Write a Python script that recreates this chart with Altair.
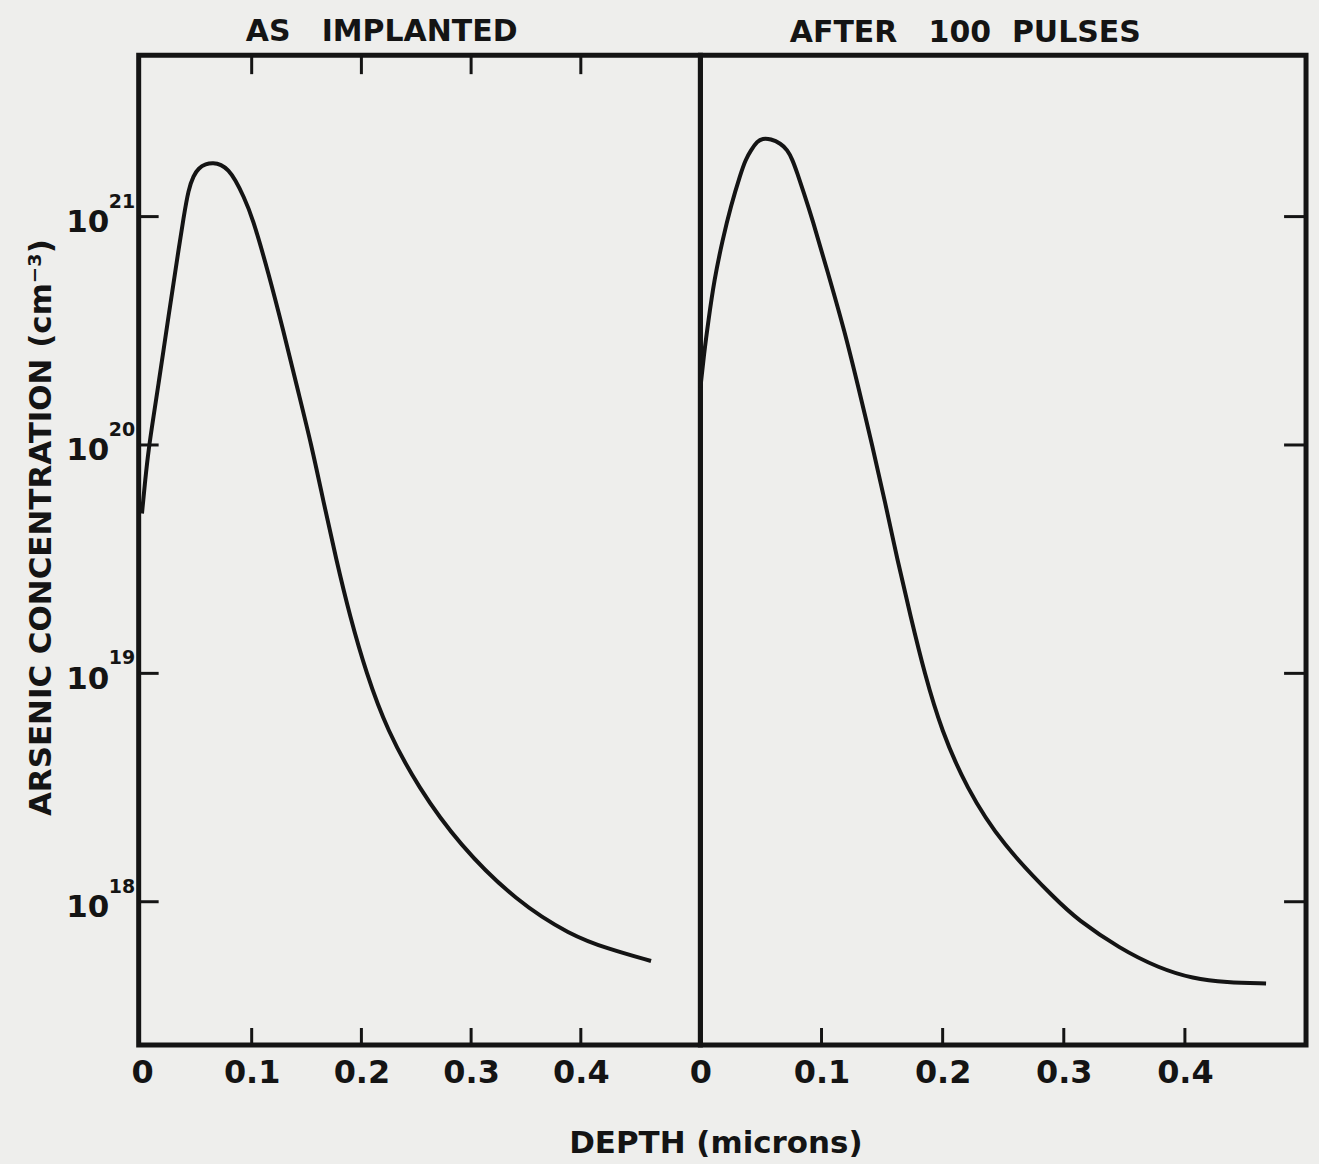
import altair as alt
import pandas as pd

# ---------------- data ----------------
# Depth in microns, arsenic concentration in cm^-3
implanted_depth = [0.000, 0.003, 0.006, 0.0106, 0.0152, 0.0197, 0.0242, 0.0288, 0.0333, 0.0379,
                   0.0424, 0.047, 0.0515, 0.058, 0.065, 0.072, 0.0788, 0.085, 0.0925, 0.1005,
                   0.1155, 0.1289, 0.1415, 0.1545, 0.1655, 0.177, 0.1895, 0.2045, 0.2235, 0.252,
                   0.289, 0.3416, 0.391, 0.424, 0.464]
implanted_conc = [5.01e19, 7.08e19, 9.55e19, 1.34e20, 1.87e20, 2.61e20, 3.66e20, 5.12e20, 7.14e20, 9.89e20,
                  1.32e21, 1.51e21, 1.63e21, 1.70e21, 1.72e21, 1.69e21, 1.60e21, 1.45e21, 1.23e21, 1.00e21,
                  5.62e20, 3.16e20, 1.78e20, 1.00e20, 5.62e19, 3.16e19, 1.78e19, 1.00e19, 5.62e18, 3.16e18,
                  1.78e18, 1.00e18, 7.13e17, 6.24e17, 5.50e17]

pulsed_depth = [0.000, 0.003, 0.0065, 0.0114, 0.0183, 0.0251, 0.0333, 0.0374, 0.0416, 0.0471,
                0.0512, 0.058, 0.0663, 0.0718, 0.0759, 0.080, 0.0854, 0.0918, 0.1055, 0.119,
                0.1305, 0.1418, 0.1525, 0.1625, 0.1735, 0.185, 0.199, 0.2195, 0.249, 0.2953,
                0.3105, 0.346, 0.379, 0.4064, 0.434, 0.467]
pulsed_conc = [1.78e20, 2.51e20, 3.47e20, 5.28e20, 7.91e20, 1.11e21, 1.55e21, 1.78e21, 1.95e21, 2.14e21,
               2.20e21, 2.19e21, 2.09e21, 1.96e21, 1.78e21, 1.55e21, 1.27e21, 1.00e21, 5.62e20, 3.16e20,
               1.78e20, 1.00e20, 5.62e19, 3.16e19, 1.78e19, 1.00e19, 5.62e18, 3.16e18, 1.78e18, 1.00e18,
               8.43e17, 6.24e17, 5.11e17, 4.61e17, 4.43e17, 4.39e17]

y_tick_values = [1e18, 1e19, 1e20, 1e21]
y_tick_exponents = ["18", "19", "20", "21"]
x_tick_values = [0.1, 0.2, 0.3, 0.4]
x_label_values = [0, 0.1, 0.2, 0.3, 0.4]

panel_titles = ["AS\u00a0\u00a0\u00a0IMPLANTED", "AFTER\u00a0\u00a0\u00a0100\u00a0\u00a0PULSES"]
y_title = "ARSENIC CONCENTRATION (cm\u207b\u00b3)"
x_title = "DEPTH (microns)"

# ---------------- styling ----------------
FONT = "DejaVu Sans"
INK = "#141414"
BG = "#eeeeec"
PANEL_H = 992
LEFT_W = 563
RIGHT_W = 607

df_impl = pd.DataFrame({"depth": implanted_depth, "conc": implanted_conc})
df_puls = pd.DataFrame({"depth": pulsed_depth, "conc": pulsed_conc})
df_yt = pd.DataFrame({"conc": y_tick_values, "exp": y_tick_exponents})
df_xt = pd.DataFrame({"depth": x_tick_values})

yscale = alt.Scale(type="log", domain=[2.36e17, 5.09e21], nice=False)
xs_left = alt.Scale(domain=[-0.003, 0.509], nice=False, zero=False)
xs_right = alt.Scale(domain=[0.0, 0.5], nice=False, zero=False)

y_axis_left = alt.Axis(
    values=y_tick_values, labelExpr="'10'", title=y_title,
    ticks=False, tickSize=0, domain=False, grid=False, labelFlush=False,
    labelFont=FONT, labelFontSize=31, labelFontWeight="bold", labelPadding=30,
    labelOffset=6, labelColor=INK,
    titleFont=FONT, titleFontSize=31, titleFontWeight="bold", titleColor=INK,
    titleX=-97, titleY=473, titleAngle=270, titleBaseline="middle", titleAlign="center",
)

x_label_expr = "datum.value == 0 ? '0' : format(datum.value, '.1f')"


def x_axis(title):
    kw = dict(
        values=x_label_values, labelExpr=x_label_expr,
        ticks=False, tickSize=0, domain=False, grid=False, labelFlush=False,
        labelFont=FONT, labelFontSize=32, labelFontWeight="bold", labelPadding=13,
        labelColor=INK,
    )
    if title:
        kw.update(title=title, titleFont=FONT, titleFontSize=31, titleFontWeight="bold",
                  titleColor=INK, titleX=578, titleY=108, titleBaseline="alphabetic",
                  titleAlign="center", titleAngle=0)
    else:
        kw.update(title=None)
    return alt.Axis(**kw)


x_axis_left = x_axis(x_title)
x_axis_right = x_axis(None)


def panel_title(text):
    return alt.TitleParams(text=text, anchor="middle", frame="group", dx=-38, offset=7,
                           font=FONT, fontSize=30, fontWeight="bold", color=INK)


line_style = dict(color=INK, strokeWidth=4, interpolate="basis")
tick_style = dict(color=INK, strokeWidth=3)

# ---------------- left panel ----------------
left_curve = alt.Chart(df_impl).mark_line(**line_style).encode(
    x=alt.X("depth:Q", scale=xs_left, axis=x_axis_left),
    y=alt.Y("conc:Q", scale=yscale, axis=y_axis_left),
)
left_yticks = alt.Chart(df_yt).mark_rule(**tick_style).encode(
    y=alt.Y("conc:Q", scale=yscale, axis=y_axis_left),
    x=alt.value(0), x2=alt.value(20),
)
left_exponents = alt.Chart(df_yt).mark_text(
    align="left", baseline="alphabetic", dy=-9, font=FONT, fontSize=19,
    fontWeight="bold", color=INK,
).encode(
    y=alt.Y("conc:Q", scale=yscale, axis=y_axis_left),
    x=alt.value(-30),
    text=alt.Text("exp:N"),
)
left_xticks_bottom = alt.Chart(df_xt).mark_rule(**tick_style).encode(
    x=alt.X("depth:Q", scale=xs_left, axis=x_axis_left),
    y=alt.value(PANEL_H - 17), y2=alt.value(PANEL_H),
)
left_xticks_top = alt.Chart(df_xt).mark_rule(**tick_style).encode(
    x=alt.X("depth:Q", scale=xs_left, axis=x_axis_left),
    y=alt.value(0), y2=alt.value(19),
)
left = alt.layer(left_curve, left_yticks, left_exponents, left_xticks_bottom, left_xticks_top).properties(
    width=LEFT_W, height=PANEL_H, title=panel_title(panel_titles[0])
)

# ---------------- right panel ----------------
right_curve = alt.Chart(df_puls).mark_line(**line_style).encode(
    x=alt.X("depth:Q", scale=xs_right, axis=x_axis_right),
    y=alt.Y("conc:Q", scale=yscale, axis=None),
)
right_yticks = alt.Chart(df_yt).mark_rule(**tick_style).encode(
    y=alt.Y("conc:Q", scale=yscale, axis=None),
    x=alt.value(RIGHT_W - 22), x2=alt.value(RIGHT_W),
)
right_xticks_bottom = alt.Chart(df_xt).mark_rule(**tick_style).encode(
    x=alt.X("depth:Q", scale=xs_right, axis=x_axis_right),
    y=alt.value(PANEL_H - 17), y2=alt.value(PANEL_H),
)
right = alt.layer(right_curve, right_yticks, right_xticks_bottom).properties(
    width=RIGHT_W, height=PANEL_H, title=panel_title(panel_titles[1])
)

chart = alt.hconcat(left, right, spacing=0, bounds="flush").properties(
    background=BG,
    padding={"left": 23, "top": 13, "right": 9, "bottom": 2},
).configure_view(stroke=INK, strokeWidth=5)

chart.save("out.html", embed_options={"renderer": "svg", "actions": False})
